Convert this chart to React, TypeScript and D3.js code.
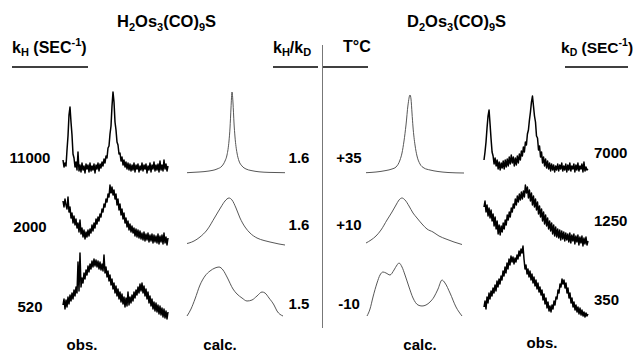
import React from 'react';
import * as d3 from 'd3';

// ---------- labels ----------
const kHLabels = ['11000', '2000', '520'];
const ratioLabels = ['1.6', '1.6', '1.5'];
const tempLabels = ['+35', '+10', '-10'];
const kDLabels = ['7000', '1250', '350'];
const bottomLabels = ['obs.', 'calc.', 'calc.', 'obs.'];

// ---------- observed spectra (intensity, evenly spaced across the sweep) ----------
const obsH1 = [12,5,9,6,22,36,57,65,50,37,18,14,5,10,2,20,1,7,0,9,2,6,-1,8,3,7,0,9,1,6,2,8,-1,7,3,9,1,8,4,10,6,13,9,16,14,24,26,38,46,66,80,70,50,42,30,27,18,19,11,15,7,12,5,10,3,9,2,8,1,7,2,9,0,7,3,8,0,6,2,9,1,7,3,8,-1,6,2,9,0,7,3,10,1,7,2,8,0,11,2,7,1,12,3,8,1,6];
const obsH2 = [44,38,46,40,36,48,33,38,27,32,22,29,20,26,17,22,13,25,11,17,8,15,6,13,8,15,9,16,12,20,14,22,17,26,21,28,24,31,28,36,33,41,38,46,43,51,48,60,52,58,50,55,46,51,40,46,35,41,30,36,26,32,22,27,18,24,15,21,13,19,12,17,9,16,8,15,7,14,6,12,5,13,4,11,5,12,3,10,4,11,2,10,3,9,2,11,1,9,3,10,1,12,2,8,0,7];
const obsH3 = [12,18,8,17,10,20,13,22,16,24,18,27,21,30,24,55,26,64,30,39,34,44,38,47,42,51,45,53,48,56,50,58,51,57,50,56,48,55,47,53,46,62,44,50,40,46,36,42,32,38,28,34,24,31,21,28,18,25,15,23,13,20,10,19,11,25,12,20,14,22,16,25,19,27,22,30,24,33,26,34,24,31,21,28,18,25,14,21,11,18,8,15,6,14,5,12,3,11,2,9,0,8,-1,6,-2,5];
const obsD1 = [12,20,30,44,56,62,48,33,20,16,8,14,6,12,3,10,2,9,4,11,3,12,5,13,6,15,8,17,9,15,6,14,7,16,9,18,12,21,16,25,20,30,27,38,42,52,60,70,76,66,56,50,36,34,22,26,15,20,9,15,6,13,4,11,3,9,1,8,2,7,0,6,2,8,1,7,3,9,1,6,2,8,0,7,2,9,1,6,3,8,0,7,2,9,1,6,3,8,0,10,1,5,2,3];
const obsD2 = [38,44,33,40,29,37,27,35,24,31,19,28,16,24,11,20,10,19,13,22,16,25,20,30,25,33,28,37,33,41,37,46,40,49,43,51,45,53,46,54,48,60,52,58,47,55,44,52,40,49,38,46,35,43,31,39,28,36,24,33,21,30,19,27,16,24,14,22,11,20,9,18,8,16,7,15,5,14,6,13,4,12,5,11,3,12,2,10,4,11,1,9,3,10,0,8,2,9,-1,7,1,8,0,4];
const obsD3 = [10,16,8,20,14,24,18,26,21,29,24,32,26,36,30,38,33,41,37,46,41,50,44,54,48,58,52,61,55,60,53,59,55,62,58,66,61,68,64,71,58,48,52,43,48,40,46,37,43,34,40,31,37,28,34,25,30,22,27,17,23,13,19,9,15,6,11,5,12,8,16,12,20,18,27,24,33,30,38,33,37,29,34,24,29,19,24,14,19,10,15,7,12,5,10,3,9,2,7,1,5,0,4,1,3];

// ---------- calculated spectra ([sweep position, intensity]) ----------
const calcH1: [number, number][] = [[0,0.3],[12,1],[22,2],[30,4],[35,7],[38,12],[40,18],[42,32],[43,45],[44,65],[45,81],[46,70],[47,50],[48,36],[50,20],[52,12],[55,7],[59,4],[64,2.5],[72,1.2],[82,0.6],[98,0.3]];
const calcH2: [number, number][] = [[0,1.5],[2,2],[7,4],[13,8],[20,15],[28,28],[34,38],[38,44],[42,47],[45,45],[49,37],[53,27],[58,18],[63,12],[70,7],[77,4.5],[83,3],[92,1],[98,0]];
const calcH3: [number, number][] = [[0,1],[4,8],[8,18],[13,32],[18,41],[23,46],[28,49],[32,50],[36,47],[40,40],[46,28],[50,23],[55,19],[60,16],[65,17],[70,21],[75,25],[78,24],[82,19],[87,12],[90,6],[96,1]];
const calcD1: [number, number][] = [[0,0.3],[10,1],[20,2.5],[26,4],[30,6],[34,13],[36,20],[38,32],[40,48],[42,68],[44,78],[45,74],[46,60],[47,46],[49,28],[51,17],[54,9],[58,5],[64,3],[72,1.5],[82,0.5],[98,0]];
const calcD2: [number, number][] = [[0,2],[5,5],[10,9],[15,15],[21,25],[26,33],[30,40],[33,45],[36,47],[39,45],[43,39],[47,32],[51,27],[56,21],[61,16],[67,13],[73,9],[80,6],[88,3],[96,0.5]];
const calcD3: [number, number][] = [[1,1],[4,8],[7,20],[11,34],[14,42],[17,45],[20,44],[24,42],[28,47],[31,52],[33,54],[36,50],[39,42],[43,30],[47,19],[52,12],[56,11],[60,12],[64,15],[68,20],[72,28],[76,37],[79,34],[84,24],[90,10],[96,1]];

const obsHRows = [obsH1, obsH2, obsH3];
const obsDRows = [obsD1, obsD2, obsD3];
const calcHRows = [calcH1, calcH2, calcH3];
const calcDRows = [calcD1, calcD2, calcD3];

// ---------- layout ----------
const W = 637;
const H = 352;
const FONT = "'Liberation Sans', Arial, Helvetica, sans-serif";
const obsBase = [172, 245, 317];
const calcBase = [173, 245, 317];
const panels = {
  obsH: [63, 168],
  calcH: [187, 285],
  calcD: [366, 464],
  obsD: [484, 588],
};

function yScale(base: number) {
  return d3.scaleLinear().domain([0, 100]).range([base, base - 100]);
}

function obsPath(vals: number[], range: number[], base: number) {
  const x = d3.scaleLinear().domain([0, vals.length - 1]).range(range);
  const y = yScale(base);
  return d3.line<number>().x((_, i) => x(i)).y((v) => y(v))(vals) || '';
}

function calcPath(pts: [number, number][], range: number[], base: number) {
  const x = d3.scaleLinear().domain([0, 98]).range(range);
  const y = yScale(base);
  return d3.line<[number, number]>().x((d) => x(d[0])).y((d) => y(d[1])).curve(d3.curveMonotoneX)(pts) || '';
}

const numStyle = { fontFamily: FONT, fontWeight: 700, fontSize: 15, fill: '#000' } as const;

export default function App() {
  return (
    <svg width={W} height={H} style={{ position: 'absolute', left: 0, top: 0, background: '#fff' }}>
      <rect x={0} y={0} width={W} height={H} fill="#fff" />
      {/* titles */}
      <text x={117} y={27} fontFamily={FONT} fontWeight={700} fontSize={16.5}>
        H<tspan dy={4} fontSize={11}>2</tspan><tspan dy={-4}>Os</tspan><tspan dy={4} fontSize={11}>3</tspan><tspan dy={-4}>(CO)</tspan><tspan dy={4} fontSize={11}>9</tspan><tspan dy={-4}>S</tspan>
      </text>
      <text x={407} y={27} fontFamily={FONT} fontWeight={700} fontSize={16.5}>
        D<tspan dy={4} fontSize={11}>2</tspan><tspan dy={-4}>Os</tspan><tspan dy={4} fontSize={11}>3</tspan><tspan dy={-4}>(CO)</tspan><tspan dy={4} fontSize={11}>9</tspan><tspan dy={-4}>S</tspan>
      </text>
      {/* column headers */}
      <text x={12} y={53} fontFamily={FONT} fontWeight={700} fontSize={16}>
        k<tspan dy={3} fontSize={11}>H</tspan><tspan dy={-3}> (SEC</tspan><tspan dy={-7} fontSize={11}>-1</tspan><tspan dy={7}>)</tspan>
      </text>
      <text x={273} y={53} fontFamily={FONT} fontWeight={700} fontSize={16}>
        k<tspan dy={3} fontSize={11}>H</tspan><tspan dy={-3}>/k</tspan><tspan dy={3} fontSize={11}>D</tspan>
      </text>
      <text x={343} y={52} fontFamily={FONT} fontWeight={700} fontSize={16}>T°C</text>
      <text x={561} y={53} fontFamily={FONT} fontWeight={700} fontSize={15.5}>
        k<tspan dy={3} fontSize={10.5}>D</tspan><tspan dy={-3}> (SEC</tspan><tspan dy={-7} fontSize={10.5}>-1</tspan><tspan dy={7}>)</tspan>
      </text>
      <g stroke="#000" strokeWidth={1.3}>
        <line x1={12} x2={88} y1={67} y2={67} />
        <line x1={273} x2={318} y1={67} y2={67} />
        <line x1={322} x2={368} y1={67} y2={67} />
        <line x1={565} x2={628} y1={67} y2={67} />
      </g>
      {/* divider */}
      <line x1={322.5} x2={322.5} y1={45} y2={328} stroke="#777" strokeWidth={1} />

      {/* spectra */}
      {obsHRows.map((v, r) => (
        <path key={'oh' + r} d={obsPath(v, panels.obsH, obsBase[r])} fill="none" stroke="#000" strokeWidth={1.5} strokeLinejoin="round" />
      ))}
      {obsDRows.map((v, r) => (
        <path key={'od' + r} d={obsPath(v, panels.obsD, obsBase[r])} fill="none" stroke="#000" strokeWidth={1.5} strokeLinejoin="round" />
      ))}
      {calcHRows.map((v, r) => (
        <path key={'ch' + r} d={calcPath(v, panels.calcH, calcBase[r])} fill="none" stroke="#444" strokeWidth={0.9} />
      ))}
      {calcDRows.map((v, r) => (
        <path key={'cd' + r} d={calcPath(v, panels.calcD, calcBase[r])} fill="none" stroke="#444" strokeWidth={0.9} />
      ))}

      {/* row labels */}
      {kHLabels.map((t, r) => (
        <text key={'kh' + r} x={30} y={[163, 232, 312][r]} textAnchor="middle" {...numStyle}>{t}</text>
      ))}
      {ratioLabels.map((t, r) => (
        <text key={'ra' + r} x={299} y={[163, 230, 309][r]} textAnchor="middle" {...numStyle}>{t}</text>
      ))}
      {tempLabels.map((t, r) => (
        <text key={'te' + r} x={349} y={[163, 230, 309][r]} textAnchor="middle" {...numStyle}>{t}</text>
      ))}
      {kDLabels.map((t, r) => (
        <text key={'kd' + r} x={594} y={[158, 226, 305][r]} textAnchor="start" {...numStyle}>{t}</text>
      ))}
      {bottomLabels.map((t, i) => (
        <text key={'b' + i} x={[82, 220, 420, 542][i]} y={[350, 350, 350, 348][i]} textAnchor="middle" {...numStyle}>{t}</text>
      ))}
    </svg>
  );
}
